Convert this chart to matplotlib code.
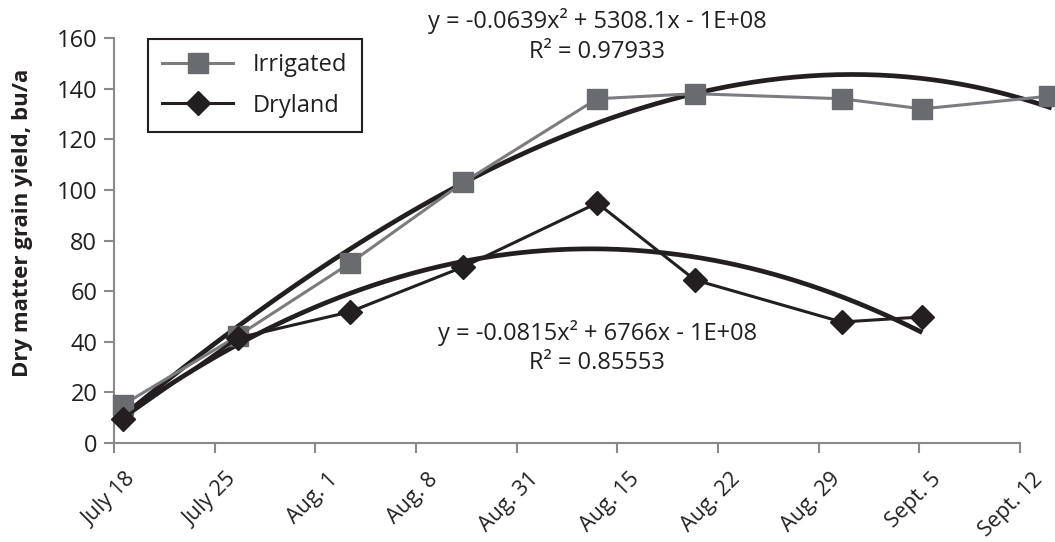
import matplotlib
matplotlib.use("Agg")
import matplotlib.pyplot as plt
import matplotlib.transforms as mtransforms
import numpy as np

plt.rcParams['font.family'] = ['Open Sans', 'DejaVu Sans']

# days after July 18
tick_days = [0, 7, 14, 21, 28, 35, 42, 49, 56, 63]
tick_labels = ["July 18", "July 25", "Aug. 1", "Aug. 8", "Aug. 31", "Aug. 15",
               "Aug. 22", "Aug. 29", "Sept. 5", "Sept. 12"]

irr_days = [0.6, 8.6, 16.4, 24.3, 33.6, 40.4, 50.6, 56.2, 65.0]
irr_yield = [15, 42.3, 71, 103, 136, 138, 136, 132, 137]

dry_days = [0.6, 8.6, 16.4, 24.3, 33.6, 40.4, 50.6, 56.2]
dry_yield = [9.5, 41.5, 51.8, 69.6, 94.8, 64.4, 47.8, 49.8]

# trend line values
irr_trend_days = [0.6, 8.6, 16.4, 24.2, 31.0, 40.5, 50.6, 53.4, 56.2, 65.2]
irr_trend_vals = [10.3, 46, 77.5, 103, 119.7, 136.8, 145.4, 146.5, 145, 131.5]
dry_trend_days = [0.6, 8.6, 16.4, 24.2, 33.6, 40.5, 50.6, 56.2]
dry_trend_vals = [9.5, 40.7, 59, 70.5, 76.3, 73.6, 59.2, 42.7]

irr_eq = "y = -0.0639x² + 5308.1x - 1E+08\nR² = 0.97933"
dry_eq = "y = -0.0815x² + 6766x - 1E+08\nR² = 0.85553"

fig = plt.figure(figsize=(10.55, 5.42), dpi=100)
ax = fig.add_axes([114 / 1055, 99 / 542, (1052 - 114) / 1055, 405 / 542])

grey_line = '#7b7c7f'
grey_mark = '#6a6b6e'
black = '#231f20'

for xs, ys, deg in [(irr_trend_days, irr_trend_vals, 3), (dry_trend_days, dry_trend_vals, 2)]:
    c = np.polyfit(xs, ys, deg)
    xx = np.linspace(min(xs), max(xs), 200)
    ax.plot(xx, np.polyval(c, xx), color=black, lw=3.4, zorder=2, clip_on=False,
            solid_capstyle='butt')

ax.plot(irr_days, irr_yield, color=grey_line, lw=2.2, marker='s', ms=14,
        mfc=grey_mark, mec=grey_mark, label='Irrigated', zorder=3, clip_on=False)
ax.plot(dry_days, dry_yield, color=black, lw=2.2, marker='D', ms=12,
        mfc=black, mec=black, label='Dryland', zorder=4, clip_on=False)

ax.set_xlim(0, (1052 - 114) / (906 / 63))
ax.set_ylim(0, 160)
ax.set_yticks(range(0, 161, 20))
ax.set_xticks(tick_days)
ax.set_xticklabels(tick_labels, rotation=45, ha='right', va='center',
                   rotation_mode='anchor')

for s in ['top', 'right']:
    ax.spines[s].set_visible(False)
for s in ['left', 'bottom']:
    ax.spines[s].set_color('#8a8a8a')
    ax.spines[s].set_linewidth(1.5)
ax.spines['bottom'].set_bounds(0, 63)
ax.tick_params(axis='both', color='#8a8a8a', width=1.5, length=7,
               labelcolor=black)
ax.tick_params(axis='x', pad=17, labelsize=15.5)
ax.tick_params(axis='y', pad=5, labelsize=17)

shift = mtransforms.ScaledTranslation(0.19, 0, fig.dpi_scale_trans)
for lab in ax.get_xticklabels():
    lab.set_transform(lab.get_transform() + shift)

ax.set_ylabel('Dry matter grain yield, bu/a', fontsize=16, fontweight='bold',
              color=black)
ax.yaxis.set_label_coords((33 - 114) / 938, (443 - 223) / 405)

ax.text(33.6, 160.8, irr_eq, ha='center', va='center', fontsize=17,
        color=black, linespacing=1.3, clip_on=False)
ax.text(33.6, 37.7, dry_eq, ha='center', va='center', fontsize=17,
        color=black, linespacing=1.25)

leg = ax.legend(loc='upper left', bbox_to_anchor=((148 - 114) / 938, (443 - 39) / 405),
                borderaxespad=0, fontsize=17, frameon=True, fancybox=False,
                handlelength=3.0, borderpad=0.6, labelspacing=0.7,
                handletextpad=0.85)
leg.get_frame().set_edgecolor(black)
leg.get_frame().set_linewidth(1.5)
leg.get_frame().set_alpha(1)
for t in leg.get_texts():
    t.set_color(black)

fig.savefig('out.png', dpi=100)
